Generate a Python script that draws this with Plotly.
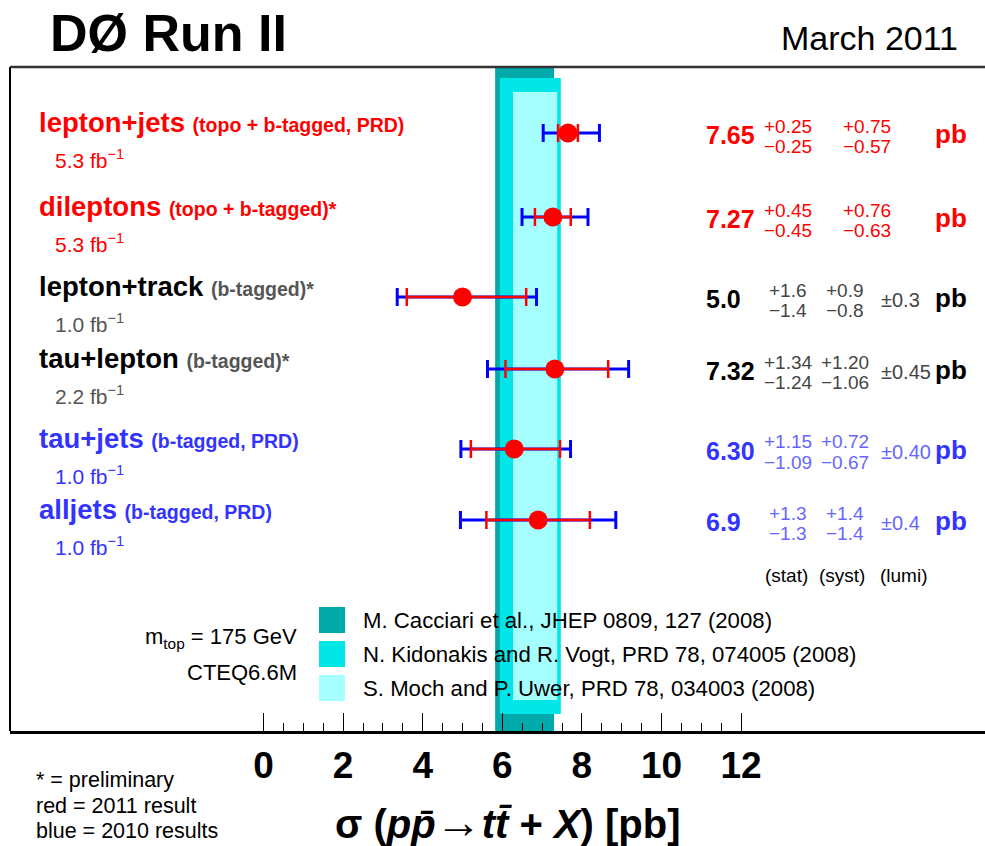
import numpy as np
import plotly.graph_objects as go

# ---------------- data ----------------
channels = ["lepton+jets", "dileptons", "lepton+track", "tau+lepton", "tau+jets", "alljets"]
methods = ["(topo + b-tagged, PRD)", "(topo + b-tagged)*", "(b-tagged)*",
           "(b-tagged)*", "(b-tagged, PRD)", "(b-tagged, PRD)"]
int_lumi = ["5.3", "5.3", "1.0", "2.2", "1.0", "1.0"]
xsec = [7.65, 7.27, 5.0, 7.32, 6.30, 6.9]
xsec_txt = ["7.65", "7.27", "5.0", "7.32", "6.30", "6.9"]
stat_up = [0.25, 0.45, 1.6, 1.34, 1.15, 1.3]
stat_dn = [0.25, 0.45, 1.4, 1.24, 1.09, 1.3]
syst_up = [0.75, 0.76, 0.9, 1.20, 0.72, 1.4]
syst_dn = [0.57, 0.63, 0.8, 1.06, 0.67, 1.4]
lumi_unc = [0.0, 0.0, 0.3, 0.45, 0.40, 0.4]
stat_up_txt = ["+0.25", "+0.45", "+1.6", "+1.34", "+1.15", "+1.3"]
stat_dn_txt = ["\u22120.25", "\u22120.45", "\u22121.4", "\u22121.24", "\u22121.09", "\u22121.3"]
syst_up_txt = ["+0.75", "+0.76", "+0.9", "+1.20", "+0.72", "+1.4"]
syst_dn_txt = ["\u22120.57", "\u22120.63", "\u22120.8", "\u22121.06", "\u22120.67", "\u22121.4"]
lumi_txt = ["", "", "\u00b10.3", "\u00b10.45", "\u00b10.40", "\u00b10.4"]
result_year = ["2011", "2011", "prelim", "prelim", "2010", "2010"]

theory_names = ["M. Cacciari et al., JHEP 0809, 127 (2008)",
                "N. Kidonakis and R. Vogt, PRD 78, 074005 (2008)",
                "S. Moch and P. Uwer, PRD 78, 034003 (2008)"]
theory_lo = [5.82, 5.94, 6.27]
theory_hi = [7.30, 7.47, 7.38]

x_ticks = [0, 2, 4, 6, 8, 10, 12]
x_minor = [v / 2 for v in range(0, 25) if v % 4 != 0]

# ---------------- layout constants (pixels) ----------------
W, H = 985, 846
PL, PR, PT, PB = 10, 985, 67, 731          # plot area in pixels
X0PX, PXU = 263.5, 39.8                     # x=0 pixel, pixels per pb
ROW_Y = [133, 217, 297, 369, 449, 520]
STAT_CX = 788
SYST_CX = [867, 867, 845, 845, 845, 845]
band_top = [PT, 78, 92]
band_bot = [PB, 714, 700]
band_col = ["#00AAAA", "#00E6E6", "#A6FFFF"]

FONT = "Liberation Sans, Arial, Helvetica, sans-serif"

styles = {
    "2011": dict(main="#FF0000", sub="#FF0000", val="#FF0000", unc="#FF0000"),
    "prelim": dict(main="#000000", sub="#555555", val="#000000", unc="#444444"),
    "2010": dict(main="#3333FF", sub="#3333FF", val="#3333FF", unc="#6666FF"),
}

xrange_ = [(PL - X0PX) / PXU, (PR - X0PX) / PXU]

tot_up = np.sqrt(np.array(stat_up) ** 2 + np.array(syst_up) ** 2 + np.array(lumi_unc) ** 2)
tot_dn = np.sqrt(np.array(stat_dn) ** 2 + np.array(syst_dn) ** 2 + np.array(lumi_unc) ** 2)


def px(xp):
    return (xp - PL) / (PR - PL)


def py(yp):
    return (PB - yp) / (PB - PT)


fig = go.Figure()

# total uncertainty (blue)
fig.add_trace(go.Scatter(
    x=xsec, y=ROW_Y, mode="markers",
    marker=dict(size=2, color="rgba(0,0,0,0)"),
    error_x=dict(type="data", symmetric=False, array=tot_up, arrayminus=tot_dn,
                 color="#0000FF", thickness=3, width=9),
    hoverinfo="skip", showlegend=False))
# statistical uncertainty (red) + central value
fig.add_trace(go.Scatter(
    x=xsec, y=ROW_Y, mode="markers",
    marker=dict(size=19, color="#FF0000", line=dict(width=0)),
    error_x=dict(type="data", symmetric=False, array=stat_up, arrayminus=stat_dn,
                 color="#FF0000", thickness=2.5, width=9),
    showlegend=False))

shapes = []
# theory bands
for lo, hi, t, b, c in zip(theory_lo, theory_hi, band_top, band_bot, band_col):
    shapes.append(dict(type="rect", xref="x", yref="y", x0=lo, x1=hi, y0=b, y1=t,
                       fillcolor=c, line=dict(width=0), layer="below"))
# frame
shapes.append(dict(type="line", xref="paper", yref="paper", x0=0, x1=1, y0=1, y1=1,
                   line=dict(color="#333333", width=2.5)))
shapes.append(dict(type="line", xref="paper", yref="paper", x0=0, x1=0, y0=0, y1=1,
                   line=dict(color="#000000", width=2)))
# legend swatches
sw_y = [(607, 633), (641, 667), (675, 701)]
for (a, b), c in zip(sw_y, band_col):
    shapes.append(dict(type="rect", xref="paper", yref="paper", x0=px(319), x1=px(345),
                       y0=py(b), y1=py(a), fillcolor=c, line=dict(width=0)))

ann = []


def text(xp, yp, s, size, color="#000000", anchor="left", bold=False, yanchor="middle"):
    ann.append(dict(x=px(xp), y=py(yp), xref="paper", yref="paper", text=s,
                    showarrow=False, xanchor=anchor, yanchor=yanchor,
                    font=dict(family=FONT, size=size, color=color,
                              weight="bold" if bold else "normal")))


# title
text(48, 33, "<b>D\u00d8 Run II</b>", 52)
text(960, 38, "March 2011", 34, anchor="right")

for i in range(len(channels)):
    st = styles[result_year[i]]
    y = ROW_Y[i]
    text(37, y - 11,
         "<b>%s</b> <span style='font-size:19.5px;color:%s'><b>%s</b></span>"
         % (channels[i], st["sub"], methods[i]), 27.5, st["main"])
    text(53, y + 26, "%s fb<sup>\u22121</sup>" % int_lumi[i], 21, st["sub"])
    text(704, y + 2, xsec_txt[i], 25, st["val"], bold=True)
    text(STAT_CX, y - 7, stat_up_txt[i], 19, st["unc"], anchor="center")
    text(STAT_CX, y + 13, stat_dn_txt[i], 19, st["unc"], anchor="center")
    text(SYST_CX[i], y - 7, syst_up_txt[i], 19, st["unc"], anchor="center")
    text(SYST_CX[i], y + 13, syst_dn_txt[i], 19, st["unc"], anchor="center")
    if lumi_txt[i]:
        text(879, y + 3, lumi_txt[i], 20, st["unc"])
    text(969, y + 1, "pb", 26, st["val"], anchor="right", bold=True)

text(786, 575, "(stat)", 19, anchor="center")
text(842, 575, "(syst)", 19, anchor="center")
text(904, 575, "(lumi)", 19, anchor="center")

# legend
for name, yy in zip(theory_names, [620, 654, 688]):
    text(361, yy, name, 22.2)
text(299, 638, "m<sub>top</sub> = 175 GeV", 22, anchor="right")
text(299, 672, "CTEQ6.6M", 22, anchor="right")

# footnotes
text(34, 780, "* = preliminary", 21.5)
text(34, 806, "red = 2011 result", 21.5)
text(34, 831, "blue = 2010 results", 21.5)

# axis title
text(508, 822,
     "<b>\u03c3 (<i>p</i><i>p\u0304</i><span style='font-size:46px'>\u2192</span>"
     "<i>t</i><i>t\u0304</i> + <i>X</i>) [pb]</b>", 40, anchor="center")

fig.update_layout(
    width=W, height=H,
    margin=dict(l=PL, r=W - PR, t=PT, b=H - PB, pad=0),
    paper_bgcolor="white", plot_bgcolor="white",
    shapes=shapes, annotations=ann, showlegend=False,
    xaxis=dict(range=xrange_, tickvals=x_ticks, ticktext=[str(v) for v in x_ticks],
               ticks="inside", ticklen=18, tickwidth=1, tickcolor="#000000",
               showline=True, linecolor="#000000", linewidth=2.5, mirror=False,
               showgrid=False, zeroline=False, fixedrange=True,
               tickfont=dict(family=FONT, size=37, color="#000000", weight="bold"),
               minor=dict(tickvals=x_minor, ticks="inside", ticklen=8, tickwidth=1,
                          tickcolor="#000000", showgrid=False)),
    yaxis=dict(range=[PB, PT], visible=False, showgrid=False, zeroline=False, fixedrange=True),
)

fig.write_html("out.html", config={"displayModeBar": False},
               post_script="document.body.style.margin='0px';document.body.style.overflow='hidden';")
